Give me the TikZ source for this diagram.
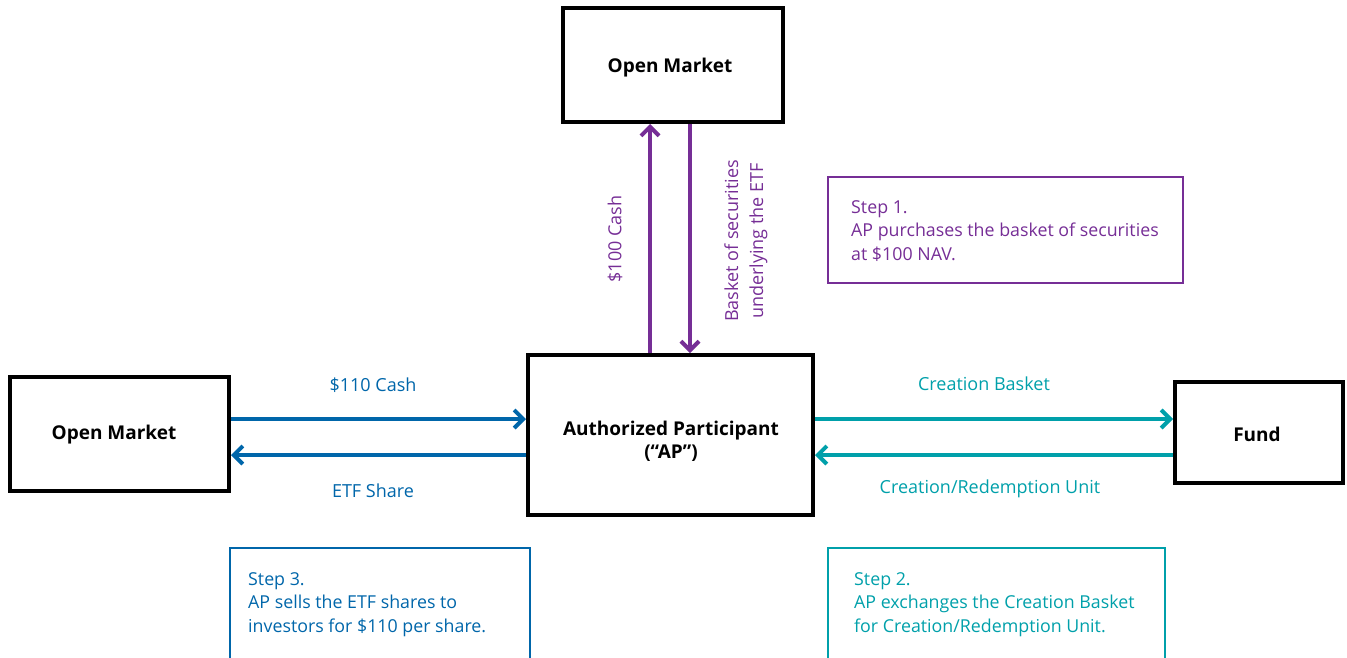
\documentclass[tikz,border=0pt]{standalone}
\usepackage{fontspec}
\setmainfont{Open Sans}
\usetikzlibrary{arrows.meta}
\definecolor{apurple}{RGB}{118,46,150}
\definecolor{ablue}{RGB}{0,102,170}
\definecolor{ateal}{RGB}{0,160,170}
\tikzset{
  entity/.style={draw=black, line width=4pt, fill=white, inner sep=0pt},
  etext/.style={font=\fontsize{19}{23}\selectfont\bfseries, align=center, inner sep=0pt},
  flow/.style={line width=4pt, -{Straight Barb[length=9pt,width=18pt,line width=4pt]}},
  lbl/.style={font=\fontsize{18}{25}\selectfont},
  stepbox/.style={line width=2pt},
  steptext/.style={font=\fontsize{17.8}{23.5}\selectfont, align=left, anchor=north west, inner sep=0pt},
}
\begin{document}
\begin{tikzpicture}[x=1pt,y=-1pt]
\useasboundingbox (0,0) rectangle (1347,657);
\clip (0,0) rectangle (1347,657);
% entities
\node[entity, minimum width=220pt, minimum height=114pt] (omtop) at (673,65) {};
\node[etext] (omtopt) at (670,68) {Open Market};
\node[entity, minimum width=285pt, minimum height=160pt] (ap) at (670.5,435) {};
\node[etext] (apt) at (671,441) {Authorized Participant\\(“AP”)};
\node[entity, minimum width=219pt, minimum height=114pt] (omleft) at (119.5,434) {};
\node[etext] (omleftt) at (114,435) {Open Market};
\node[entity, minimum width=168pt, minimum height=101pt] (fund) at (1259,432.5) {};
\node[etext] (fundt) at (1257,434) {Fund};
% purple arrows
\draw[flow, apurple] (ap.north -| 650,0) -- (omtop.south -| 650,0);
\draw[flow, apurple] (omtop.south -| 690,0) -- (ap.north -| 690,0);
\node[lbl, apurple, rotate=90] (l100) at (615,239) {\$100 Cash};
\node[lbl, apurple, rotate=90, align=center] (lbasket) at (746,241) {Basket of securities\\underlying the ETF};
% blue arrows
\draw[flow, ablue] (omleft.east |- 0,419) -- (ap.west |- 0,419);
\draw[flow, ablue] (ap.west |- 0,455) -- (omleft.east |- 0,455);
\node[lbl, ablue] (l110) at (373,385) {\$110 Cash};
\node[lbl, ablue] (letf) at (373,491) {ETF Share};
% teal arrows
\draw[flow, ateal] (ap.east |- 0,419) -- (fund.west |- 0,419);
\draw[flow, ateal] (fund.west |- 0,455) -- (ap.east |- 0,455);
\node[lbl, ateal] (lcb) at (984,384) {Creation Basket};
\node[lbl, ateal] (lcru) at (990,489) {Creation/Redemption Unit};
% step boxes
\draw[stepbox, apurple] (828,177) rectangle (1183,283);
\node[steptext, apurple] (s1) at (851,200) {Step 1.\\AP purchases the basket of securities\\at \$100 NAV.};
\draw[stepbox, ablue] (230,548) rectangle (530,680);
\node[steptext, ablue] (s3) at (248,572) {Step 3.\\AP sells the ETF shares to\\investors for \$110 per share.};
\draw[stepbox, ateal] (828,548) rectangle (1165,680);
\node[steptext, ateal] (s2) at (854,572) {Step 2.\\AP exchanges the Creation Basket\\for Creation/Redemption Unit.};
\end{tikzpicture}
\end{document}
